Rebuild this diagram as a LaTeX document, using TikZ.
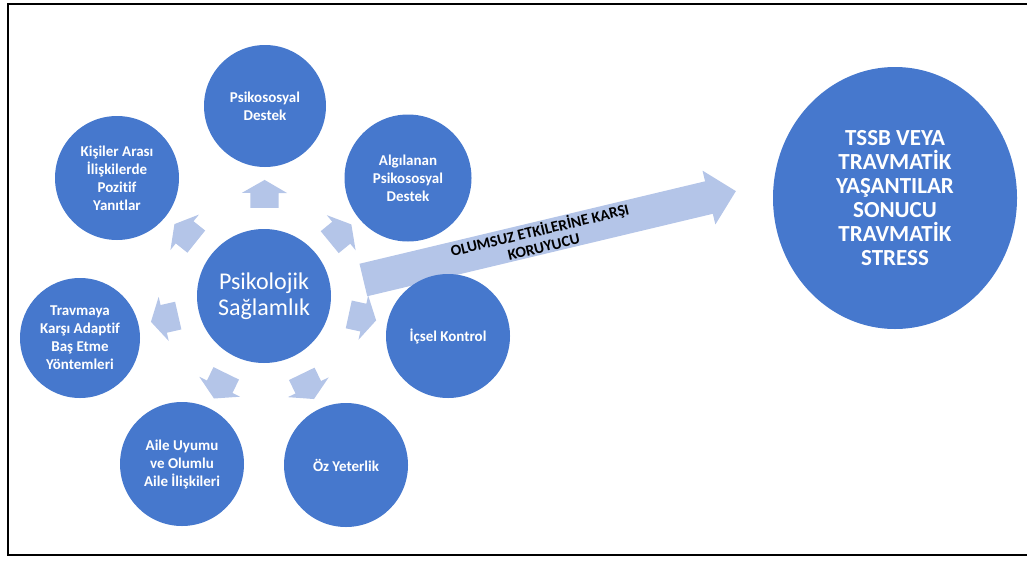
\documentclass[tikz,border=0pt]{standalone}
\usepackage{fontspec}
\setmainfont{Carlito}[Ligatures=NoCommon]
\usepackage{xcolor}
\usetikzlibrary{shapes.geometric,shapes.arrows}

\definecolor{diskblue}{HTML}{4678CD}
\definecolor{paleblue}{HTML}{B4C5E8}

\tikzset{
    disk/.style={circle, fill=diskblue, text=white, align=center, inner sep=0pt,
        font=\bfseries\fontsize{15}{18}\selectfont},
    pointer/.style={single arrow, fill=paleblue, inner xsep=0pt, inner ysep=14pt, sloped, allow upside down,
        minimum height=28pt, single arrow head extend=8.5pt, single arrow tip angle=120},
}

\begin{document}
\begin{tikzpicture}[x=1pt,y=-1pt]
                \useasboundingbox (0,0) rectangle (1027,562);
                \draw[line width=1.4pt] (8,4) rectangle (1040,555);

                \coordinate (tail) at (355,282);
                \coordinate (tip) at (728,193);
                \path (tail) -- (tip)
                    node[midway, sloped, single arrow, fill=paleblue, inner xsep=0pt, inner ysep=16.5pt,
                        minimum height=383pt, single arrow head extend=11pt] (shield) {}
                    node[midway, sloped, align=center, font=\bfseries\fontsize{15.5}{17}\selectfont] (shieldtext)
                        {OLUMSUZ ETKİLERİNE KARŞI\\KORUYUCU};

                \node[disk, minimum size=134pt, font=\fontsize{24}{26}\selectfont] (psy) at (264,296) {Psikolojik\\Sağlamlık};

                \node[disk, minimum size=122pt] (dest) at (265,106) {Psikososyal\\Destek};
                \node[disk, minimum size=124pt] (kis) at (117,178) {Kişiler Arası\\İlişkilerde\\Pozitif\\Yanıtlar};
                \node[disk, minimum size=127pt] (alg) at (408,178) {Algılanan\\Psikososyal\\Destek};
                \node[disk, minimum size=120pt] (trav) at (80,338) {Travmaya\\Karşı Adaptif\\Baş Etme\\Yöntemleri};
                \node[disk, minimum size=124pt] (ics) at (448,336) {İçsel Kontrol};
                \node[disk, minimum size=124pt] (aile) at (182,464) {Aile Uyumu\\ve Olumlu\\Aile İlişkileri};
                \node[disk, minimum size=124pt] (oz) at (346,465) {Öz Yeterlik};

                \node[disk, ellipse, minimum width=244pt, minimum height=262pt,
                    font=\bfseries\fontsize{23}{24}\selectfont] (ptsd) at (895,198)
                    {TSSB VEYA\\TRAVMATİK\\YAŞANTILAR\\SONUCU\\TRAVMATİK\\STRESS};

                \path (psy) -- (dest) node[midway, pointer] (p1) {};
                \path (psy) -- (kis) node[midway, pointer] (p2) {};
                \path (psy) -- (alg) node[midway, pointer] (p3) {};
                \path (psy) -- (trav) node[midway, pointer] (p4) {};
                \path (psy) -- (ics) node[midway, pointer] (p5) {};
                \path (psy) -- (aile) node[midway, pointer] (p6) {};
                \path (psy) -- (oz) node[midway, pointer] (p7) {};
            \end{tikzpicture}
\end{document}
